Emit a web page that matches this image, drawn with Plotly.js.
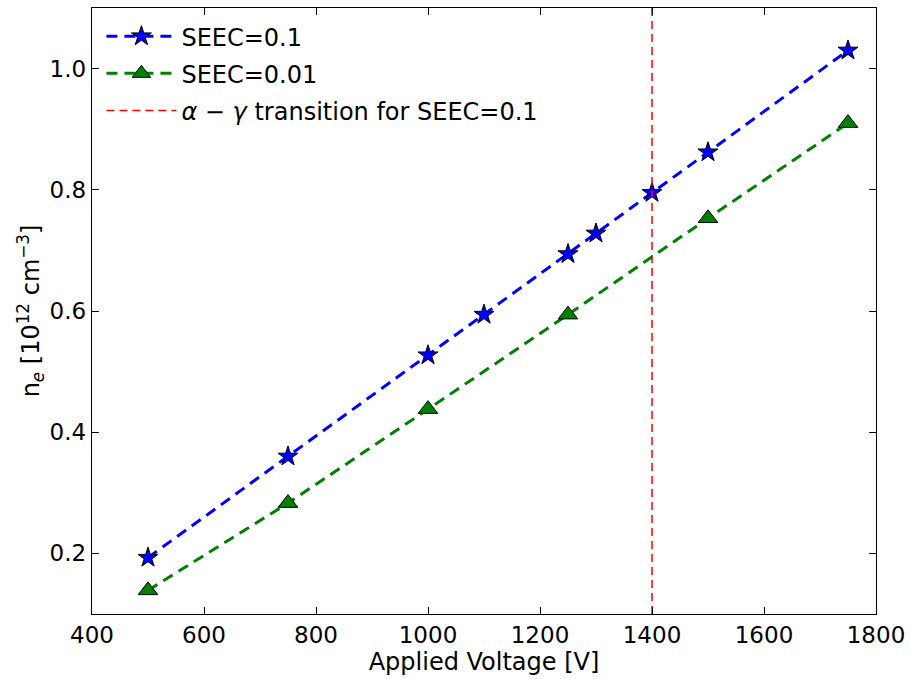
<!DOCTYPE html>
<html>
<head>
<meta charset="utf-8">
<script src="https://cdn.plot.ly/plotly-3.0.1.min.js"></script>
<style>html,body{margin:0;padding:0;background:#fff;}</style>
</head>
<body>
<div id="chart" style="width:910px;height:679px;"></div>
<script>
const voltsHigh = [500, 750, 1000, 1100, 1250, 1300, 1400, 1500, 1750];
const neHigh = [0.193, 0.360, 0.527, 0.594, 0.694, 0.728, 0.795, 0.862, 1.030];
const voltsLow = [500, 750, 1000, 1250, 1500, 1750];
const neLow = [0.139, 0.283, 0.438, 0.594, 0.753, 0.910];
const transitionV = 1400;
const yRange = [0.1, 1.1];
const xRange = [400, 1800];
const xTicks = [400, 600, 800, 1000, 1200, 1400, 1600, 1800];
const yTicks = [0.2, 0.4, 0.6, 0.8, 1.0];

const tickFont = {family: 'DejaVu Sans, sans-serif', size: 23, color: '#000'};
const titleFont = {family: 'DejaVu Sans, sans-serif', size: 24, color: '#000'};

const traces = [
  {
    x: voltsHigh, y: neHigh, name: 'SEEC=0.1', mode: 'lines+markers', legendgroup: 'a',
    line: {color: '#0000ff', width: 3, dash: '11px,7px'},
    marker: {symbol: 'star', size: 15, color: '#0000ff', line: {color: '#000', width: 1}}
  },
  {
    x: voltsLow, y: neLow, name: 'SEEC=0.01', mode: 'lines+markers', legendgroup: 'b',
    line: {color: '#008000', width: 3, dash: '11px,7px'},
    marker: {symbol: 'triangle-up', size: 17, color: '#008000', line: {color: '#000', width: 1}}
  },
  {
    x: [transitionV, transitionV], y: yRange, name: '<i>α</i> − <i>γ</i> transition for SEEC=0.1',
    legendgroup: 'c',
    mode: 'lines', line: {color: '#ff0000', width: 1.5, dash: '8px,5px'}
  }
];

const axisCommon = {
  showgrid: false, zeroline: false, showline: true, linecolor: '#000', linewidth: 1.2,
  mirror: 'ticks', ticks: 'inside', ticklen: 7, tickwidth: 1, tickcolor: '#000',
  tickfont: tickFont
};

const layout = {
  width: 910, height: 679,
  margin: {l: 92, r: 34, t: 8, b: 65},
  paper_bgcolor: '#fff', plot_bgcolor: '#fff',
  font: tickFont,
  showlegend: true,
  legend: {x: 0.012, y: 0.99, xanchor: 'left', yanchor: 'top', bgcolor: 'rgba(255,255,255,0)',
           itemwidth: 70, traceorder: 'grouped',
           font: {family: 'DejaVu Sans, sans-serif', size: 24, color: '#000'}, tracegroupgap: 3},
  xaxis: Object.assign({}, axisCommon, {
    range: xRange, tickvals: xTicks, ticktext: xTicks.map(String),
    title: {text: 'Applied Voltage [V]', font: titleFont, standoff: 4}
  }),
  yaxis: Object.assign({}, axisCommon, {
    range: yRange, tickvals: yTicks, ticktext: yTicks.map(v => v.toFixed(1)),
    title: {text: 'n<sub><i>e</i></sub> [10<sup>12</sup> cm<sup>−3</sup>]', font: titleFont, standoff: 3}
  })
};

Plotly.newPlot('chart', traces, layout, {staticPlot: true, displayModeBar: false});
</script>
</body>
</html>
